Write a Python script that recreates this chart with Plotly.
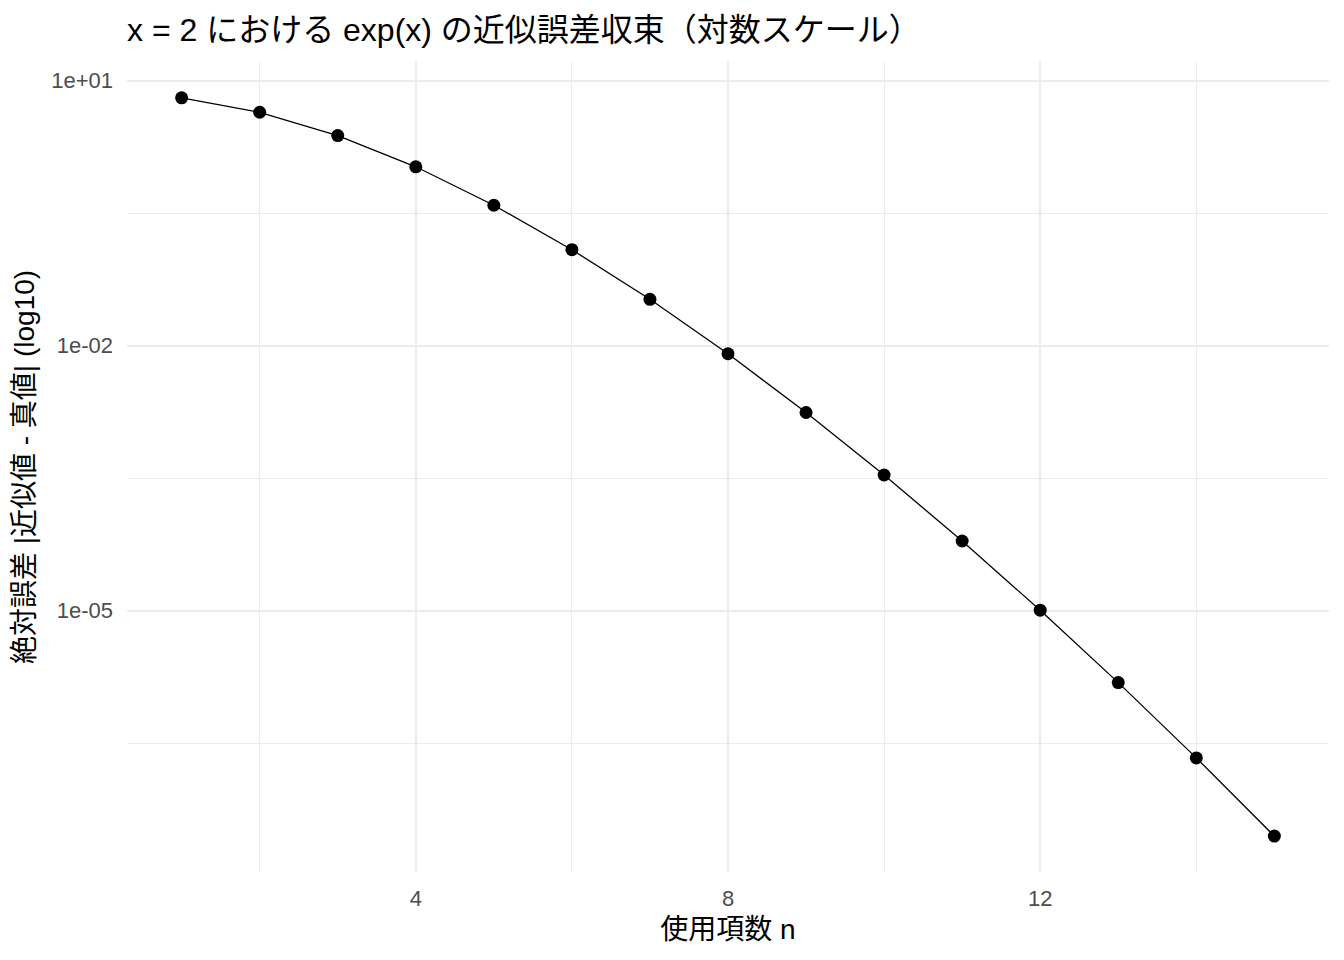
import plotly.graph_objects as go

# number of terms used in the Taylor series of exp(x) at x = 2
n_terms = [1, 2, 3, 4, 5, 6, 7, 8, 9, 10, 11, 12, 13, 14, 15]
# absolute error |approx - true|
abs_error = [6.39, 4.39, 2.39, 1.06, 0.389, 0.122, 0.0335, 0.0081,
             0.00175, 0.000343, 6.14e-5, 1.01e-5, 1.53e-6, 2.15e-7, 2.8e-8]

x_ticks = [4, 8, 12]
x_minor = [2, 6, 10, 14]
y_ticks = [1e1, 1e-2, 1e-5]
y_tick_labels = ["1e+01", "1e-02", "1e-05"]
y_minor = [10 ** -0.5, 10 ** -3.5, 10 ** -6.5]

FONT = "Liberation Sans, Arial, Noto Sans CJK JP"
GRID = "#EBEBEB"

# the page body adds an 8px offset, so the figure is 8px smaller each way
W, H = 1336, 952

fig = go.Figure()
fig.add_trace(go.Scatter(
    x=n_terms, y=abs_error, mode="lines+markers",
    line=dict(color="black", width=1.3),
    marker=dict(color="black", size=13),
    showlegend=False,
))

fig.update_layout(
    width=W, height=H,
    plot_bgcolor="white", paper_bgcolor="white",
    font=dict(family=FONT, color="black"),
    margin=dict(l=119, r=15, t=53, b=87),
    title=dict(text="x = 2 における exp(x) の近似誤差収束（対数スケール）",
               x=119 / W, xanchor="left", y=1 - 22 / H, yanchor="middle",
               font=dict(size=32, color="black")),
    xaxis=dict(
        range=[0.3, 15.7], tickmode="array", tickvals=x_ticks,
        showgrid=True, gridcolor=GRID, gridwidth=1.6, zeroline=False,
        showline=False, ticks="", ticklabelstandoff=10,
        tickfont=dict(size=22, color="#4D4D4D"),
        title=dict(text="使用項数 n", font=dict(size=28), standoff=9),
        minor=dict(tickmode="array", tickvals=x_minor, showgrid=True,
                   gridcolor=GRID, gridwidth=0.9),
    ),
    yaxis=dict(
        type="log", range=[-7.971, 1.223], tickmode="array",
        tickvals=y_ticks, ticktext=y_tick_labels,
        showgrid=True, gridcolor=GRID, gridwidth=1.6, zeroline=False,
        showline=False, ticks="", ticklabelstandoff=13,
        tickfont=dict(size=22, color="#4D4D4D"),
        title=dict(text="絶対誤差 |近似値 - 真値| (log10)", font=dict(size=28), standoff=8),
        minor=dict(tickmode="array", tickvals=y_minor, showgrid=True,
                   gridcolor=GRID, gridwidth=0.9),
    ),
)

fig.write_html("out.html")
